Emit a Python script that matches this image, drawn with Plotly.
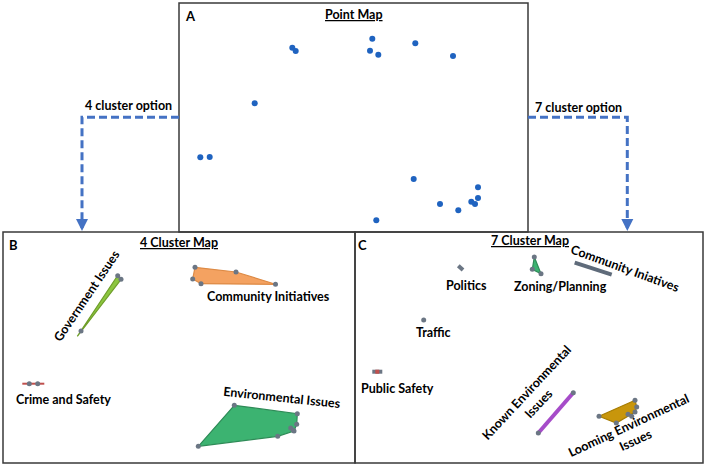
import plotly.graph_objects as go

W, H = 708, 468

# Panel A: point map (local pixel units inside the panel)
point_x = [113.3, 116.7, 193.3, 191, 199.3, 236.3, 274, 75.7, 21.3, 30.7,
           234.7, 299, 299, 292.3, 296, 261, 279.3, 197.3]
point_y = [44.7, 48, 35.7, 47.7, 51.7, 40.3, 53, 100.3, 154.3, 154,
           176, 184.3, 195, 198.7, 201, 201, 207.3, 217.3]

# Panel B: 4 cluster map
gov_x = [74.3, 114.3, 118.3]
gov_y = [104.3, 44, 47]
gov_px = [114.7, 118, 78]
gov_py = [43.7, 47.3, 99]
comm_x = [192, 233, 272.5, 198, 189.7]
comm_y = [35.3, 40, 52.3, 51.7, 47]
crime_x = [19.3, 41.3]
crime_y = [151.7, 151.7]
crime_px = [26.3, 34.7]
crime_py = [151.7, 151.7]
env_x = [231.3, 294.3, 293.7, 291, 274.7, 195.3]
env_y = [173.3, 181.7, 192.3, 199, 204.3, 214.3]
env_px = [231.3, 294.3, 293.7, 291, 274.7, 195.3, 287.7, 290.3]
env_py = [173.3, 181.7, 192.3, 199, 204.3, 214.3, 196, 198.3]

b_labels = ["Government Issues", "Community Initiatives", "Crime and Safety", "Environmental Issues"]
b_label_x = [83.7, 265.3, 60.3, 279.3]
b_label_y = [63.3, 64, 167.7, 165.7]
b_label_angle = [-56, 0, 0, 6]

# Panel C: 7 cluster map
pol_x = [103.3, 108]
pol_y = [33.7, 38]
zon_x = [179.3, 177.3, 186]
zon_y = [25, 37.3, 41.7]
ci_x = [219.7, 256.7]
ci_y = [30.7, 42.7]
traf_x = [68.7]
traf_y = [88]
ps_x = [17.3, 27.3]
ps_y = [139.7, 139.7]
known_x = [183.3, 218.3]
known_y = [201, 160.7]
loom_x = [244, 280, 281.7, 280, 261.3]
loom_y = [184.3, 168.3, 175, 180, 191]
loom_px = [244, 280, 281.7, 280, 261.3, 273, 276.7]
loom_py = [184.3, 168.3, 175, 180, 191, 182.3, 184.3]

c_labels = ["Politics", "Zoning/Planning", "Community Iniatives", "Traffic", "Public Safety",
            "Known Environmental<br>Issues", "Looming Environmental<br>Issues"]
c_label_x = [111.7, 205.7, 270.7, 78.3, 42.3, 177, 277.3]
c_label_y = [53.3, 54.3, 36, 100.7, 156, 166.7, 200]
c_label_angle = [0, 0, 20, 0, 0, -47, -25]

# panel boxes in figure pixels: x0, y0, x1, y1
panels = {"A": (179, 3, 528, 232), "B": (3, 232, 355, 463), "C": (355, 232, 703, 463)}

def fx(x):
    return x / W

def fy(y):
    return 1 - y / H

GRAY = "#6b7684"
FONT = "Lato"
FS = 12.5

fig = go.Figure()

def pts(x, y, ax, color=GRAY, size=5):
    fig.add_trace(go.Scatter(x=x, y=y, mode="markers", xaxis=ax[0], yaxis=ax[1],
                             marker=dict(color=color, size=size), hoverinfo="skip"))

def poly(x, y, ax, fill, line):
    fig.add_trace(go.Scatter(x=x + x[:1], y=y + y[:1], mode="lines", fill="toself",
                             fillcolor=fill, line=dict(color=line, width=1.2),
                             xaxis=ax[0], yaxis=ax[1], hoverinfo="skip"))

def seg(x, y, ax, color, width):
    fig.add_trace(go.Scatter(x=x, y=y, mode="lines", line=dict(color=color, width=width),
                             xaxis=ax[0], yaxis=ax[1], hoverinfo="skip"))

A = ("x", "y")
B = ("x2", "y2")
C = ("x3", "y3")

pts(point_x, point_y, A, color="#1f63c0", size=6)

poly(gov_x, gov_y, B, "#8cc63f", "#6f9e2a")
pts(gov_px, gov_py, B)
poly(comm_x, comm_y, B, "#f4a261", "#dd8a45")
pts(comm_x, comm_y, B)
seg(crime_x, crime_y, B, "#c0504d", 2)
pts(crime_px, crime_py, B)
poly(env_x, env_y, B, "#3cb371", "#2e8b57")
pts(env_px, env_py, B)

seg(pol_x, pol_y, C, GRAY, 4)
poly(zon_x, zon_y, C, "#3cb371", "#2e8b57")
pts(zon_x, zon_y, C)
seg(ci_x, ci_y, C, "#5f6b7a", 4)
pts(traf_x, traf_y, C)
seg(ps_x, ps_y, C, GRAY, 4)
seg([sum(ps_x) / 2 - 2, sum(ps_x) / 2 + 2], ps_y, C, "#c0504d", 4)
seg(known_x, known_y, C, "#a64cc9", 4)
pts(known_x, known_y, C)
poly(loom_x, loom_y, C, "#c8960c", "#a67c00")
pts(loom_px, loom_py, C)

annotations = []
for t, x, y, a in zip(b_labels, b_label_x, b_label_y, b_label_angle):
    annotations.append(dict(text=f"<b>{t}</b>", x=x, y=y, xref="x2", yref="y2", textangle=a,
                            showarrow=False, font=dict(family=FONT, size=FS, color="black")))
for t, x, y, a in zip(c_labels, c_label_x, c_label_y, c_label_angle):
    annotations.append(dict(text=f"<b>{t}</b>", x=x, y=y, xref="x3", yref="y3", textangle=a,
                            showarrow=False, font=dict(family=FONT, size=FS, color="black")))

titles = {"A": ("Point Map", 174.5, 12), "B": ("4 Cluster Map", 176, 10.7), "C": ("7 Cluster Map", 174.7, 8.3)}
letters = {"A": (12, 13), "B": (10.3, 13.3), "C": (8, 13.3)}
axes = {"A": A, "B": B, "C": C}
layout_axes = {}
shapes = []
for i, (k, (x0, y0, x1, y1)) in enumerate(panels.items()):
    sfx = "" if i == 0 else str(i + 1)
    layout_axes["xaxis" + sfx] = dict(domain=[fx(x0), fx(x1)], range=[0, x1 - x0], visible=False,
                                      anchor="y" + sfx)
    layout_axes["yaxis" + sfx] = dict(domain=[fy(y1), fy(y0)], range=[y1 - y0, 0], visible=False,
                                      anchor="x" + sfx)
    t, tx, ty = titles[k]
    annotations.append(dict(text=f"<b><u>{t}</u></b>", x=tx, y=ty, xref=axes[k][0], yref=axes[k][1],
                            showarrow=False, font=dict(family=FONT, size=FS, color="black")))
    lx, ly = letters[k]
    annotations.append(dict(text=f"<b>{k}</b>", x=lx, y=ly, xref=axes[k][0], yref=axes[k][1],
                            showarrow=False, font=dict(family=FONT, size=13, color="black")))
    shapes.append(dict(type="rect", xref="paper", yref="paper", x0=fx(x0), x1=fx(x1), y0=fy(y1), y1=fy(y0),
                       line=dict(color="#3a3a3a", width=1.5), layer="above"))

# dashed connectors
BLUE = "#4472c4"
for path in [[(179, 117.3), (82, 117.3), (82, 225)], [(528, 117.3), (627.3, 117.3), (627.3, 225)]]:
    d = "M " + " L ".join(f"{fx(x)},{fy(y)}" for x, y in path)
    shapes.append(dict(type="path", path=d, xref="paper", yref="paper",
                       line=dict(color=BLUE, width=3, dash="8px,4px")))
    ex, ey = path[-1]
    annotations.append(dict(x=fx(ex), y=fy(ey + 6), xref="paper", yref="paper", ax=0, ay=-6,
                            showarrow=True, arrowhead=2, arrowsize=0.8, arrowwidth=3, arrowcolor=BLUE,
                            standoff=0, text=""))
annotations.append(dict(text="<b>4 cluster option</b>", x=fx(128.3), y=fy(105.7), xref="paper", yref="paper",
                        xanchor="center", yanchor="middle", showarrow=False,
                        font=dict(family=FONT, size=FS, color="black")))
annotations.append(dict(text="<b>7 cluster option</b>", x=fx(578.3), y=fy(107.3), xref="paper", yref="paper",
                        xanchor="center", yanchor="middle", showarrow=False,
                        font=dict(family=FONT, size=FS, color="black")))

fig.update_layout(width=W, height=H, margin=dict(l=0, r=0, t=0, b=0), showlegend=False,
                  paper_bgcolor="white", plot_bgcolor="white",
                  annotations=annotations, shapes=shapes, **layout_axes)

fig.write_html("out.html", config={"displayModeBar": False},
               post_script="document.body.style.margin='0';")
